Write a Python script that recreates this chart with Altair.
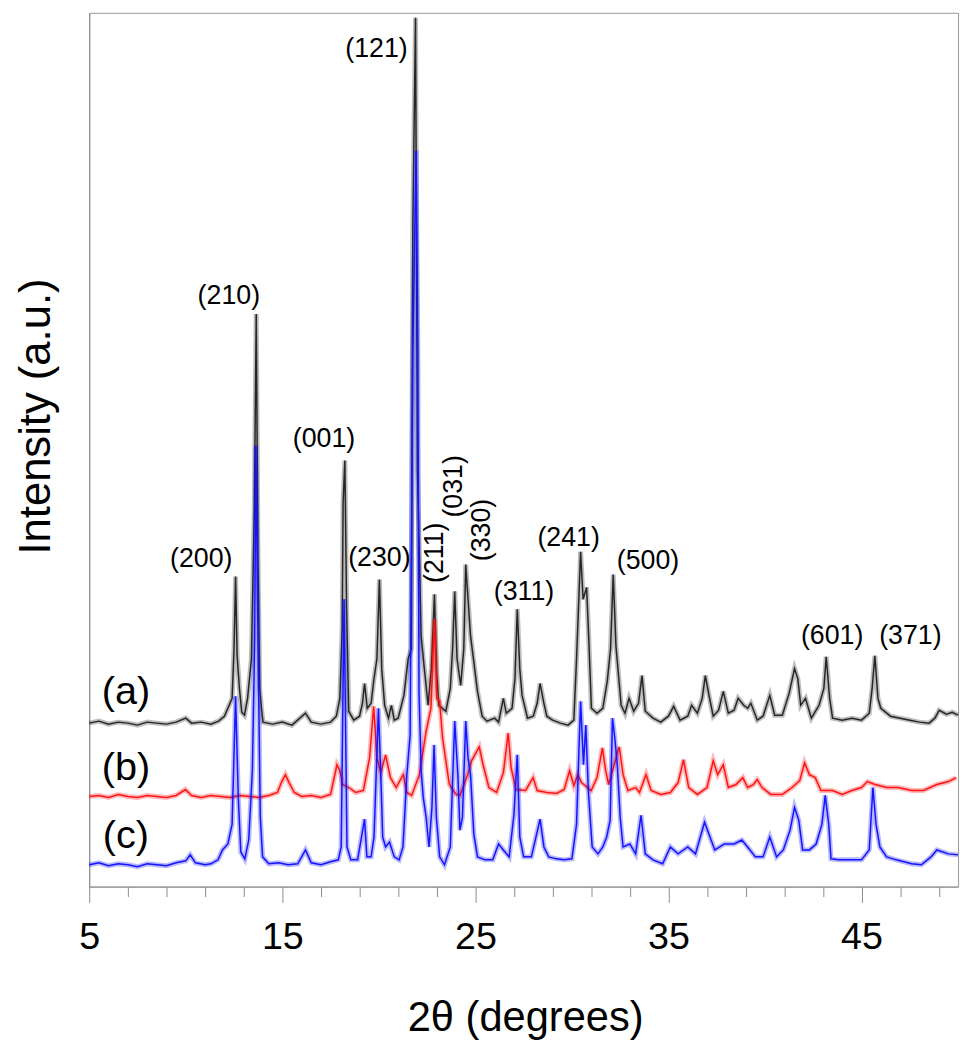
import altair as alt
import pandas as pd

SERIES = ["(a)", "(b)", "(c)"]
COLORS = ["#262626", "#ff1414", "#1414ff"]

# (2theta, intensity a.u. incl. vertical offset)
TRACE_A = [
    [5.0, 165], [5.5, 167], [6.0, 164], [6.5, 166], [7.0, 165], [7.5, 163], [8.0, 166], [8.5, 165],
    [9.0, 164], [9.5, 166], [10.0, 170], [10.3, 165], [10.8, 166], [11.3, 164], [11.7, 167], [12.0, 172],
    [12.18, 180], [12.4, 190], [12.5, 240], [12.58, 313], [12.66, 233], [12.78, 200], [12.9, 176],
    [13.04, 173], [13.2, 190], [13.4, 230], [13.55, 380], [13.65, 578], [13.74, 330], [13.83, 200],
    [13.92, 180], [14.0, 166], [14.5, 164], [15.0, 166], [15.5, 163], [16.2, 175], [16.5, 166],
    [17.0, 164], [17.5, 166], [17.8, 172], [17.98, 190], [18.1, 260], [18.15, 388], [18.24, 430],
    [18.33, 280], [18.44, 177], [18.7, 168], [19.0, 172], [19.15, 185], [19.26, 205], [19.4, 180],
    [19.6, 185], [19.73, 207], [19.9, 230], [20.03, 310], [20.15, 220], [20.3, 183], [20.5, 170],
    [20.65, 183], [20.8, 168], [21.0, 170], [21.3, 193], [21.52, 230], [21.68, 240], [21.76, 667],
    [21.9, 877], [22.0, 420], [22.19, 253], [22.34, 223], [22.55, 183], [22.72, 220], [22.88, 295],
    [23.0, 215], [23.11, 183], [23.47, 177], [23.7, 200], [23.82, 240], [23.93, 298], [24.05, 230],
    [24.24, 203], [24.4, 240], [24.5, 325], [24.62, 290], [24.75, 253], [25.11, 197], [25.35, 172],
    [25.6, 167], [26.0, 170], [26.2, 166], [26.45, 190], [26.6, 175], [26.9, 180], [27.05, 210],
    [27.17, 280], [27.3, 220], [27.42, 193], [27.7, 170], [28.0, 172], [28.2, 185], [28.35, 205],
    [28.55, 185], [28.7, 172], [29.0, 168], [29.4, 165], [29.8, 163], [30.1, 168], [30.24, 230],
    [30.45, 338], [30.58, 290], [30.76, 302], [30.88, 247], [31.01, 180], [31.3, 175], [31.6, 180],
    [31.83, 207], [32.0, 240], [32.14, 315], [32.28, 243], [32.55, 183], [32.75, 175], [32.96, 190],
    [33.2, 177], [33.45, 185], [33.63, 213], [33.8, 177], [34.2, 170], [34.6, 166], [35.0, 172],
    [35.27, 182], [35.6, 168], [36.0, 172], [36.2, 183], [36.5, 175], [36.75, 190], [36.91, 213],
    [37.1, 193], [37.32, 172], [37.6, 178], [37.84, 197], [38.1, 175], [38.4, 178], [38.61, 190],
    [38.9, 183], [39.1, 180], [39.27, 185], [39.6, 168], [39.9, 172], [40.25, 193], [40.5, 173],
    [40.9, 173], [41.25, 195], [41.53, 220], [41.7, 210], [41.85, 183], [42.1, 190], [42.4, 170],
    [42.8, 183], [43.05, 200], [43.17, 232], [43.35, 190], [43.5, 170], [44.0, 168], [44.5, 170],
    [45.0, 168], [45.4, 175], [45.55, 200], [45.69, 233], [45.85, 190], [46.0, 180], [46.5, 172],
    [47.0, 170], [47.5, 168], [48.0, 166], [48.5, 165], [48.8, 170], [49.02, 178], [49.4, 174],
    [49.7, 176], [50.0, 173],
]

TRACE_B = [
    [5.0, 91], [5.5, 92], [6.0, 90], [6.5, 93], [7.0, 91], [7.5, 90], [8.0, 92], [8.5, 91], [9.0, 90],
    [9.5, 92], [9.98, 98], [10.3, 92], [10.8, 90], [11.3, 92], [11.8, 91], [12.3, 90], [12.8, 92],
    [13.3, 91], [13.8, 90], [14.3, 92], [14.75, 95], [14.95, 105], [15.16, 113], [15.35, 105],
    [15.62, 95], [16.0, 91], [16.5, 92], [17.0, 90], [17.5, 93], [17.83, 123], [17.98, 117],
    [18.13, 103], [18.44, 100], [18.8, 95], [19.2, 97], [19.52, 130], [19.73, 182], [19.9, 130],
    [20.1, 115], [20.35, 133], [20.6, 110], [20.9, 100], [21.26, 113], [21.45, 95], [21.7, 92],
    [22.1, 113], [22.45, 157], [22.7, 180], [22.88, 270], [23.0, 190], [23.15, 187], [23.3, 150],
    [23.45, 130], [23.65, 103], [24.0, 93], [24.2, 92], [24.6, 113], [24.8, 127], [25.2, 141],
    [25.4, 123], [25.7, 100], [26.1, 95], [26.45, 115], [26.7, 155], [26.85, 120], [27.1, 98],
    [27.6, 97], [27.99, 110], [28.2, 97], [28.7, 95], [29.2, 94], [29.6, 98], [29.88, 117],
    [30.1, 102], [30.3, 113], [30.5, 105], [30.8, 100], [31.0, 97], [31.3, 110], [31.58, 140],
    [31.75, 117], [31.9, 103], [32.1, 117], [32.45, 141], [32.65, 113], [32.9, 97], [33.3, 100],
    [33.5, 95], [33.84, 113], [34.1, 97], [34.6, 93], [35.1, 95], [35.5, 105], [35.78, 128],
    [36.05, 100], [36.5, 93], [37.0, 100], [37.32, 127], [37.55, 113], [37.84, 123], [38.1, 100],
    [38.5, 103], [38.85, 110], [39.1, 100], [39.4, 103], [39.6, 108], [39.85, 100], [40.3, 93],
    [40.9, 93], [41.4, 100], [41.8, 107], [42.05, 125], [42.3, 113], [42.6, 110], [42.9, 97],
    [43.5, 97], [44.0, 93], [44.5, 97], [45.0, 100], [45.3, 106], [45.7, 103], [46.3, 100],
    [46.9, 100], [47.6, 97], [48.2, 97], [48.9, 103], [49.5, 106], [49.9, 110],
]

TRACE_C = [
    [5.0, 22], [5.5, 24], [6.0, 21], [6.5, 23], [7.0, 22], [7.5, 20], [8.0, 23], [8.5, 22], [9.0, 21],
    [9.5, 24], [10.0, 26], [10.23, 32], [10.5, 24], [11.0, 22], [11.3, 23], [11.67, 27], [11.9, 37],
    [12.18, 43], [12.4, 63], [12.58, 192], [12.72, 90], [12.85, 35], [13.06, 28], [13.26, 47],
    [13.45, 117], [13.57, 250], [13.63, 445], [13.74, 250], [13.86, 70], [13.98, 30], [14.3, 23],
    [14.8, 24], [15.3, 22], [15.8, 23], [16.2, 37], [16.5, 24], [17.0, 22], [17.5, 25], [17.9, 27],
    [18.05, 40], [18.2, 290], [18.35, 40], [18.55, 27], [18.9, 27], [19.26, 68], [19.38, 30],
    [19.6, 30], [19.75, 50], [19.98, 180], [20.1, 113], [20.2, 50], [20.35, 40], [20.55, 45],
    [20.8, 30], [21.05, 27], [21.25, 40], [21.45, 113], [21.62, 153], [21.76, 540], [21.93, 743],
    [22.02, 540], [22.08, 197], [22.19, 117], [22.3, 90], [22.45, 70], [22.6, 40], [22.75, 80],
    [22.86, 143], [22.98, 70], [23.15, 30], [23.4, 22], [23.7, 40], [23.93, 167], [24.1, 110],
    [24.2, 57], [24.33, 70], [24.5, 167], [24.62, 130], [24.75, 113], [24.92, 53], [25.11, 30],
    [25.5, 27], [25.9, 27], [26.2, 43], [26.45, 37], [26.75, 30], [27.0, 73], [27.17, 133],
    [27.3, 50], [27.5, 30], [27.9, 30], [28.35, 68], [28.55, 40], [28.8, 30], [29.2, 28], [29.6, 27],
    [30.0, 28], [30.24, 63], [30.35, 130], [30.45, 187], [30.6, 123], [30.72, 163], [30.85, 97],
    [31.05, 40], [31.35, 33], [31.6, 40], [31.8, 50], [31.98, 67], [32.1, 170], [32.22, 150],
    [32.35, 123], [32.5, 70], [32.65, 40], [33.0, 43], [33.3, 33], [33.58, 72], [33.8, 33],
    [34.2, 27], [34.7, 23], [35.1, 40], [35.5, 33], [36.0, 40], [36.4, 33], [36.87, 65], [37.15, 50],
    [37.4, 37], [37.9, 43], [38.4, 43], [38.8, 47], [39.1, 40], [39.5, 30], [39.9, 30], [40.25, 50],
    [40.6, 30], [40.95, 37], [41.3, 57], [41.53, 80], [41.75, 67], [41.95, 37], [42.3, 37],
    [42.65, 43], [42.95, 63], [43.12, 92], [43.3, 63], [43.42, 28], [43.8, 27], [44.4, 27],
    [45.0, 27], [45.4, 37], [45.59, 100], [45.75, 63], [45.95, 40], [46.3, 30], [46.8, 27],
    [47.6, 23], [48.1, 22], [48.6, 30], [48.9, 37], [49.5, 33], [50.0, 32],
]

PEAK_LABELS = ["(200)", "(210)", "(001)", "(121)", "(230)", "(241)", "(311)", "(500)", "(601)", "(371)"]
PEAK_X = [10.80, 12.23, 17.16, 19.88, 20.03, 29.83, 27.52, 33.94, 43.48, 47.53]
PEAK_Y = [331, 596, 452, 845, 332, 352, 297, 329, 253, 253]

VPEAK_LABELS = ["(211)", "(031)", "(330)"]
VPEAK_X = [22.91, 23.88, 25.37]
VPEAK_Y = [337, 404, 360]

SERIES_LABEL_X = [6.90, 6.90, 6.90]
SERIES_LABEL_Y = [196, 120, 51]

MAJOR_TICKS = [5, 15, 25, 35, 45]
MINOR_TICKS = [7, 9, 11, 13, 17, 19, 21, 23, 27, 29, 31, 33, 37, 39, 41, 43, 47, 49]

FONT = "Liberation Sans"
GRAY = "#8c8c8c"

xscale = alt.Scale(domain=[5, 50], nice=False, zero=False)
yscale = alt.Scale(domain=[0, 882], nice=False, zero=False)

yaxis = alt.Axis(
    title="Intensity (a.u.)", labels=False, ticks=False, grid=False,
    domainColor=GRAY, domainWidth=1, titleFont=FONT, titleFontSize=44,
    titleFontWeight="normal", titleColor="black", titleAngle=270,
    titleAlign="center", titleBaseline="alphabetic", titleX=-40, titleY=407,
)
xmajor = alt.Axis(
    orient="bottom", values=MAJOR_TICKS, tickSize=16, tickColor=GRAY, tickWidth=1,
    domainColor=GRAY, domainWidth=1, grid=False, format="d",
    labelFont=FONT, labelFontSize=38, labelColor="black", labelBaseline="alphabetic",
    labelPadding=47, labelAlign="center",
    title="2θ (degrees)", titleFont=FONT, titleFontSize=42, titleFontWeight="normal",
    titleColor="black", titleBaseline="alphabetic", titleY=145, titleX=440,
)
xminor = alt.Axis(
    orient="bottom", values=MINOR_TICKS, tickSize=10, tickColor=GRAY, tickWidth=1,
    domain=False, grid=False, labels=False, title="",
)

layers = []
for i, pts in enumerate([TRACE_A, TRACE_B, TRACE_C]):
    df = pd.DataFrame(pts, columns=["theta", "intensity"])
    halo_axis = xminor if i == 0 else None
    core_axis = xmajor if i == 0 else None
    halo = alt.Chart(df).mark_line(color=COLORS[i], strokeWidth=5, opacity=0.3).encode(
        x=alt.X("theta:Q", scale=xscale, axis=halo_axis),
        y=alt.Y("intensity:Q", scale=yscale, axis=yaxis),
    )
    core = alt.Chart(df).mark_line(color=COLORS[i], strokeWidth=1.5).encode(
        x=alt.X("theta:Q", scale=xscale, axis=core_axis),
        y=alt.Y("intensity:Q", scale=yscale, axis=yaxis),
    )
    layers += [halo, core]

peaks_df = pd.DataFrame({"label": PEAK_LABELS, "x": PEAK_X, "y": PEAK_Y})
vpeaks_df = pd.DataFrame({"label": VPEAK_LABELS, "x": VPEAK_X, "y": VPEAK_Y})
series_df = pd.DataFrame({"label": SERIES, "x": SERIES_LABEL_X, "y": SERIES_LABEL_Y})

peak_text = alt.Chart(peaks_df).mark_text(
    font=FONT, fontSize=27, color="black", align="center", baseline="middle"
).encode(
    x=alt.X("x:Q", scale=xscale, axis=None),
    y=alt.Y("y:Q", scale=yscale, axis=yaxis),
    text="label:N",
)
vpeak_text = alt.Chart(vpeaks_df).mark_text(
    font=FONT, fontSize=27, color="black", align="center", baseline="middle", angle=270
).encode(
    x=alt.X("x:Q", scale=xscale, axis=None),
    y=alt.Y("y:Q", scale=yscale, axis=yaxis),
    text="label:N",
)
series_text = alt.Chart(series_df).mark_text(
    font=FONT, fontSize=40, color="black", align="center", baseline="middle"
).encode(
    x=alt.X("x:Q", scale=xscale, axis=None),
    y=alt.Y("y:Q", scale=yscale, axis=yaxis),
    text="label:N",
)

chart = alt.layer(*layers, peak_text, vpeak_text, series_text).resolve_axis(
    x="independent"
).properties(
    width=877, height=882,
    autosize=alt.AutoSizeParams(type="none"),
    padding={"left": 82, "top": 0, "right": 6, "bottom": 150},
).configure_view(stroke="#9a9a9a", strokeWidth=1)

chart.save("out.html", embed_options={"renderer": "svg", "actions": False})
